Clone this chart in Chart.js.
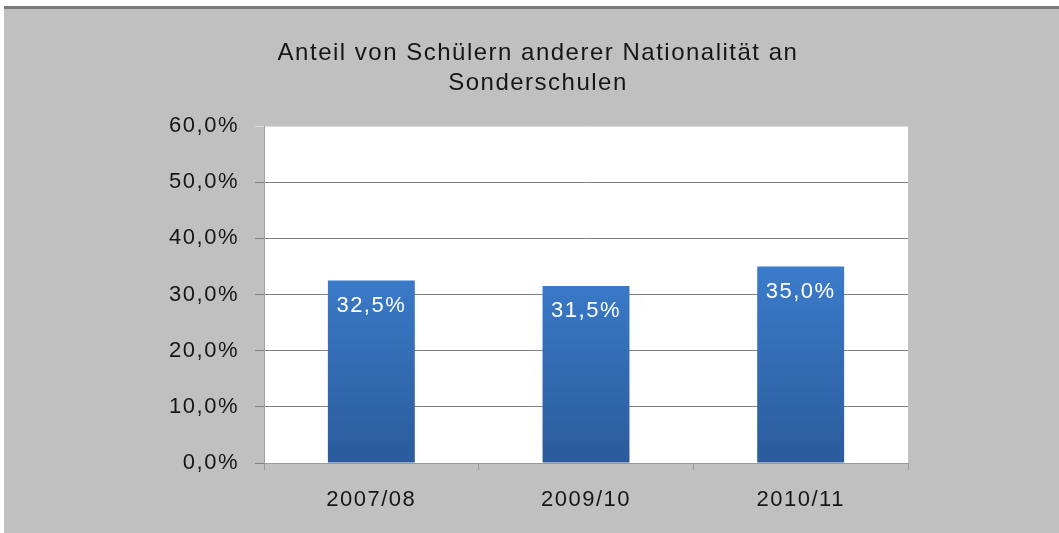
<!DOCTYPE html>
<html>
<head>
<meta charset="utf-8">
<script src="https://cdn.jsdelivr.net/npm/chart.js@4/dist/chart.umd.min.js"></script>
<style>
  html, body { margin: 0; padding: 0; background: #fff; }
  .frame {
    margin: 6px 0 0 4px;
    border-top: 3px solid #7c7c7c;
    background: #c0c0c0;
    width: 1055px;
    height: 524px;
  }
  canvas { display: block; }
</style>
</head>
<body>
<div class="frame"><canvas id="chart" width="1055" height="524"></canvas></div>
<script>
const titleLines = ['Anteil von Schülern anderer Nationalität an', 'Sonderschulen']
const categories = ['2007/08', '2009/10', '2010/11']
const shareValues = [32.5, 31.5, 35.0]
const yTicks = [0, 10, 20, 30, 40, 50, 60]

const FONT = '"Liberation Sans", Arial, Helvetica, sans-serif'
const fmt = v => v.toFixed(1).replace('.', ',') + '%'

// the original text is a bit wide, like a stretched Helvetica
const wideText = {
	id: 'wideText',
	beforeLayout(chart) {
		chart.ctx.letterSpacing = '1.5px'
	},
	beforeDraw(chart) {
		chart.ctx.letterSpacing = '1.5px'
	}
}

const plotBackground = {
	id: 'plotBackground',
	beforeDraw(chart) {
		const { ctx, chartArea: a } = chart
		ctx.save()
		ctx.fillStyle = '#ffffff'
		ctx.fillRect(a.left, a.top, a.right - a.left, a.bottom - a.top)
		ctx.restore()
	}
}

const valueLabels = {
	id: 'valueLabels',
	afterDatasetsDraw(chart) {
		const { ctx } = chart
		const meta = chart.getDatasetMeta(0)
		ctx.save()
		ctx.fillStyle = '#ffffff'
		ctx.font = '22px ' + FONT
		ctx.textAlign = 'center'
		ctx.textBaseline = 'middle'
		meta.data.forEach((bar, i) => {
			ctx.fillText(fmt(shareValues[i]), bar.x, bar.y + 25)
		})
		ctx.restore()
	}
}

const barGradient = context => {
	const { ctx, chartArea } = context.chart
	if (!chartArea) return '#3470b8'
	const g = ctx.createLinearGradient(0, context.chart.scales.y.getPixelForValue(35), 0, chartArea.bottom)
	g.addColorStop(0, '#3b7ccb')
	g.addColorStop(1, '#2b5b9b')
	return g
}

new Chart(document.getElementById('chart').getContext('2d'), {
	type: 'bar',
	data: {
		labels: categories,
		datasets: [
			{
				data: shareValues,
				backgroundColor: barGradient,
				borderWidth: 0,
				categoryPercentage: 1,
				barPercentage: 0.405
			}
		]
	},
	plugins: [wideText, plotBackground, valueLabels],
	options: {
		responsive: false,
		animation: false,
		layout: { padding: { left: 13, right: 0, top: 0, bottom: 0 } },
		plugins: {
			legend: { display: false },
			tooltip: { enabled: false },
			title: {
				display: true,
				text: titleLines,
				color: '#161616',
				font: { family: FONT, size: 24, weight: 'normal', lineHeight: 1.23 },
				padding: { top: 30, bottom: 28 }
			}
		},
		scales: {
			x: {
				afterFit: s => { s.height = 70 },
				grid: {
					offset: true,
					drawOnChartArea: false,
					tickLength: 7,
					color: '#9a9a9a'
				},
				border: { color: '#9a9a9a' },
				ticks: {
					color: '#161616',
					padding: 17,
					font: { family: FONT, size: 22 }
				}
			},
			y: {
				min: 0,
				max: 60,
				afterFit: s => { s.width = 247 },
				afterBuildTicks: s => { s.ticks = yTicks.map(v => ({ value: v })) },
				grid: {
					tickLength: 9,
					color: ctx => (ctx.tick && ctx.tick.value === 60 ? '#dcdcdc' : '#808080')
				},
				border: { color: '#a0a0a0' },
				ticks: {
					color: '#161616',
					padding: 16,
					font: { family: FONT, size: 22 },
					callback: v => fmt(v)
				}
			},
			// empty right-hand axis, only reserves the grey margin right of the plot
			spacer: {
				type: 'linear',
				position: 'right',
				afterFit: s => { s.width = 151 },
				grid: { display: false },
				border: { display: false },
				ticks: { display: false }
			}
		}
	}
})
</script>
</body>
</html>
